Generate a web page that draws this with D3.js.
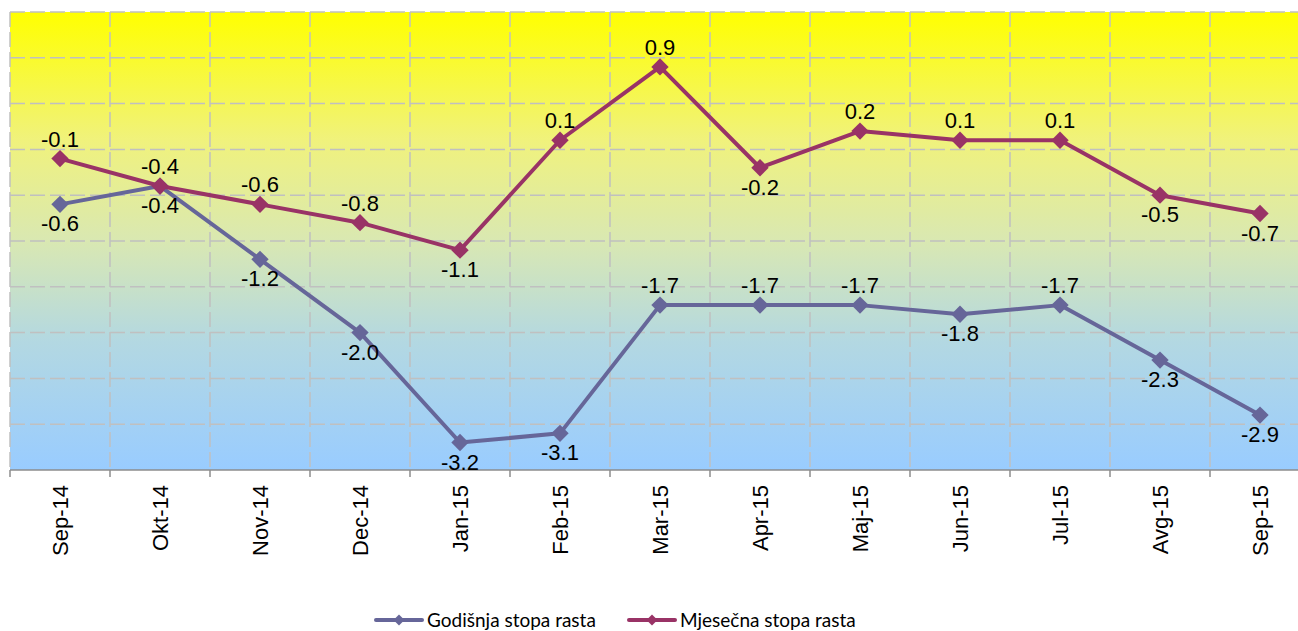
<!DOCTYPE html>
<html>
<head>
<meta charset="utf-8">
<script src="https://cdn.jsdelivr.net/npm/d3@7"></script>
<style>
  body { margin: 0; background: #fff; }
  svg { display: block; }
</style>
</head>
<body>
<div id="chart"></div>
<script>
// data
var months = ["Sep-14", "Okt-14", "Nov-14", "Dec-14", "Jan-15", "Feb-15", "Mar-15",
  "Apr-15", "Maj-15", "Jun-15", "Jul-15", "Avg-15", "Sep-15"];
var godisnja = [-0.6, -0.4, -1.2, -2.0, -3.2, -3.1, -1.7, -1.7, -1.7, -1.8, -1.7, -2.3, -2.9];
var mjesecna = [-0.1, -0.4, -0.6, -0.8, -1.1, 0.1, 0.9, -0.2, 0.2, 0.1, 0.1, -0.5, -0.7];
var yTicks = [-3.5, -3, -2.5, -2, -1.5, -1, -0.5, 0, 0.5, 1, 1.5];
// which side the value label sits on (1 = above, 0 = below)
var godisnjaAbove = [0, 0, 0, 0, 0, 0, 1, 1, 1, 0, 1, 0, 0];
var mjesecnaAbove = [1, 1, 1, 1, 0, 1, 1, 0, 1, 1, 1, 0, 0];

var series = [
  {name: "Godišnja stopa rasta", values: godisnja, above: godisnjaAbove, color: "#666699"},
  {name: "Mjesečna stopa rasta", values: mjesecna, above: mjesecnaAbove, color: "#993366"}
];

var outerWidth = 1298;
var outerHeight = 631;
var margin = {top: 12, left: 10, bottom: 161};
var plotWidth = 1300;
var plotHeight = outerHeight - margin.top - margin.bottom;
var labelFont = "'Liberation Sans', Arial, sans-serif";

var svg = d3.select("#chart").append("svg")
  .attr("width", outerWidth)
  .attr("height", outerHeight);

var defs = svg.append("defs");
var grad = defs.append("linearGradient")
  .attr("id", "bgGrad")
  .attr("x1", 0).attr("y1", 0).attr("x2", 0).attr("y2", 1);
[["0%", "#ffff00"], ["28%", "#f0f27c"], ["50%", "#d9e8b2"], ["72%", "#b3d8e2"], ["100%", "#99ccff"]]
  .forEach(function (s) {
    grad.append("stop").attr("offset", s[0]).attr("stop-color", s[1]);
  });

var x = d3.scaleBand().domain(months).range([0, plotWidth]);
var y = d3.scaleLinear().domain([-3.5, 1.5]).range([plotHeight, 0]);

var g = svg.append("g")
  .attr("transform", "translate(" + margin.left + "," + margin.top + ")");

g.append("rect")
  .attr("width", plotWidth)
  .attr("height", plotHeight)
  .attr("fill", "url(#bgGrad)");

// horizontal grid
g.selectAll("line.hgrid").data(yTicks.slice(1)).enter().append("line")
  .attr("class", "hgrid")
  .attr("x1", 0).attr("x2", plotWidth)
  .attr("y1", function (d) { return y(d); })
  .attr("y2", function (d) { return y(d); })
  .attr("stroke", "#c0c0c0")
  .attr("stroke-width", 1.5)
  .attr("stroke-dasharray", "15,5");

// vertical grid on band edges
g.selectAll("line.vgrid").data(months).enter().append("line")
  .attr("class", "vgrid")
  .attr("x1", function (d) { return x(d); })
  .attr("x2", function (d) { return x(d); })
  .attr("y1", 0).attr("y2", plotHeight)
  .attr("stroke", "#c0c0c0")
  .attr("stroke-width", 1.5)
  .attr("stroke-dasharray", "15,5");

// x axis
var xAxis = g.append("g")
  .attr("transform", "translate(0," + plotHeight + ")");
xAxis.append("line")
  .attr("x1", 0).attr("x2", plotWidth)
  .attr("stroke", "#8c8c8c").attr("stroke-width", 1.5);
xAxis.selectAll("line.tick").data(months).enter().append("line")
  .attr("class", "tick")
  .attr("x1", function (d) { return x(d); })
  .attr("x2", function (d) { return x(d); })
  .attr("y1", 0).attr("y2", 7)
  .attr("stroke", "#8c8c8c").attr("stroke-width", 1.5);
xAxis.selectAll("text").data(months).enter().append("text")
  .attr("transform", function (d) {
    return "translate(" + (x(d) + x.bandwidth() / 2 + 8) + ",15) rotate(-90)";
  })
  .attr("text-anchor", "end")
  .attr("font-family", labelFont)
  .attr("font-size", "22px")
  .attr("fill", "#000")
  .text(function (d) { return d; });

var line = d3.line()
  .x(function (d, i) { return x(months[i]) + x.bandwidth() / 2; })
  .y(function (d) { return y(d); });

// Excel-style diamond: a square turned 45 degrees
var marker = d3.symbol().type(d3.symbolSquare).size(150);

series.forEach(function (s) {
  g.append("path")
    .datum(s.values)
    .attr("d", line)
    .attr("fill", "none")
    .attr("stroke", s.color)
    .attr("stroke-width", 4)
    .attr("stroke-linejoin", "round");

  g.selectAll(null).data(s.values).enter().append("path")
    .attr("d", marker)
    .attr("transform", function (d, i) {
      return "translate(" + (x(months[i]) + x.bandwidth() / 2) + "," + y(d) + ") rotate(45)";
    })
    .attr("fill", s.color);
});

series.forEach(function (s) {
  g.selectAll(null).data(s.values).enter().append("text")
    .attr("x", function (d, i) { return x(months[i]) + x.bandwidth() / 2; })
    .attr("y", function (d, i) { return y(d) + (s.above[i] ? -12 : 27); })
    .attr("text-anchor", "middle")
    .attr("font-family", labelFont)
    .attr("font-size", "22px")
    .attr("fill", "#000")
    .text(function (d) { return d.toFixed(1); });
});

// legend
var legend = svg.append("g").attr("transform", "translate(0,620)");
var legendX = [376, 629];
series.forEach(function (s, i) {
  var lg = legend.append("g").attr("transform", "translate(" + legendX[i] + ",0)");
  lg.append("line")
    .attr("x1", 0).attr("x2", 46)
    .attr("stroke", s.color).attr("stroke-width", 4)
    .attr("stroke-linecap", "round");
  lg.append("path")
    .attr("d", d3.symbol().type(d3.symbolSquare).size(60))
    .attr("transform", "translate(23,0) rotate(45)")
    .attr("fill", s.color);
  lg.append("text")
    .attr("x", 51).attr("y", 7)
    .attr("font-family", "Lato, 'Open Sans', sans-serif")
    .attr("font-size", "19px")
    .attr("fill", "#000")
    .text(s.name);
});
</script>
</body>
</html>
